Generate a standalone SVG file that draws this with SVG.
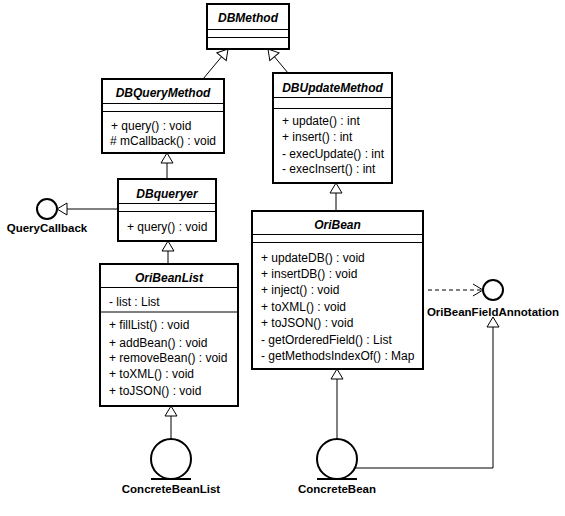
<svg xmlns="http://www.w3.org/2000/svg" width="565" height="516" viewBox="0 0 565 516">
<style>
.bg{fill:#fff}
.box{fill:#fff;stroke:#000;stroke-width:2}
.sep{stroke:#000;stroke-width:1}
text{font-family:"Liberation Sans",Arial,sans-serif;font-size:12px;fill:#000}
.title{font-weight:bold;font-style:italic;font-size:12px;text-anchor:middle}
.lbl{font-weight:bold;font-size:11.5px;text-anchor:middle}
.ln{stroke:#000;stroke-width:1;fill:none}
.dash{stroke:#000;stroke-width:1;fill:none;stroke-dasharray:4 3}
.iface{fill:#fff;stroke:#000;stroke-width:2}
.base{stroke:#000;stroke-width:2}
</style>
<defs>
<marker id="gen" viewBox="0 0 12 14" refX="11" refY="7" markerWidth="12" markerHeight="14" markerUnits="userSpaceOnUse" orient="auto">
<path d="M1,1 L11,7 L1,13 Z" fill="#fff" stroke="#000" stroke-width="1"/>
</marker>
<marker id="dep" viewBox="0 0 12 14" refX="11" refY="7" markerWidth="12" markerHeight="14" markerUnits="userSpaceOnUse" orient="auto">
<path d="M1,1 L11,7 L1,13" fill="none" stroke="#000" stroke-width="1"/>
</marker>
</defs>
<rect class="bg" x="0" y="0" width="565" height="516"/>

<g id="connectors">
<line class="ln" x1="203" y1="79" x2="228" y2="49" marker-end="url(#gen)"/>
<line class="ln" x1="288" y1="73" x2="268" y2="49" marker-end="url(#gen)"/>
<line class="ln" x1="167" y1="179" x2="167" y2="153" marker-end="url(#gen)"/>
<line class="ln" x1="168" y1="264" x2="168" y2="241" marker-end="url(#gen)"/>
<line class="ln" x1="118" y1="209" x2="57" y2="209" marker-end="url(#gen)"/>
<line class="ln" x1="336" y1="211" x2="336" y2="183" marker-end="url(#gen)"/>
<line class="ln" x1="171" y1="439" x2="171" y2="406" marker-end="url(#gen)"/>
<line class="ln" x1="337" y1="439" x2="337" y2="369" marker-end="url(#gen)"/>
<path class="ln" d="M355,468 H493 V317" marker-end="url(#gen)"/>
<line class="dash" x1="428" y1="290" x2="483" y2="290" marker-end="url(#dep)"/>
</g>

<g id="DBMethod">
<rect class="box" x="207" y="4" width="82" height="45"/>
<line class="sep" x1="207" y1="29.5" x2="289" y2="29.5"/>
<line class="sep" x1="207" y1="37.5" x2="289" y2="37.5"/>
<text class="title" x="248" y="22">DBMethod</text>
</g>

<g id="DBQueryMethod">
<rect class="box" x="102" y="79" width="122" height="74"/>
<line class="sep" x1="102" y1="103.5" x2="224" y2="103.5"/>
<line class="sep" x1="102" y1="111.5" x2="224" y2="111.5"/>
<text class="title" x="163" y="97">DBQueryMethod</text>
<text x="111" y="130">+ query() : void</text>
<text x="110" y="145"># mCallback() : void</text>
</g>

<g id="DBUpdateMethod">
<rect class="box" x="273" y="73" width="119" height="110"/>
<line class="sep" x1="273" y1="97.5" x2="392" y2="97.5"/>
<line class="sep" x1="273" y1="108.5" x2="392" y2="108.5"/>
<text class="title" x="332.5" y="92">DBUpdateMethod</text>
<text x="282" y="125">+ update() : int</text>
<text x="282" y="141">+ insert() : int</text>
<text x="282" y="158">- execUpdate() : int</text>
<text x="282" y="173">- execInsert() : int</text>
</g>

<g id="DBqueryer">
<rect class="box" x="118" y="179" width="98" height="62"/>
<line class="sep" x1="118" y1="203.5" x2="216" y2="203.5"/>
<line class="sep" x1="118" y1="211.5" x2="216" y2="211.5"/>
<text class="title" x="167" y="198">DBqueryer</text>
<text x="127" y="231">+ query() : void</text>
</g>

<g id="QueryCallback">
<circle class="iface" cx="47" cy="209" r="10"/>
<text class="lbl" x="47" y="232">QueryCallback</text>
</g>

<g id="OriBeanList">
<rect class="box" x="100" y="264" width="138" height="142"/>
<line class="sep" x1="100" y1="287.5" x2="238" y2="287.5"/>
<line class="sep" x1="100" y1="312" x2="238" y2="312"/>
<text class="title" x="169" y="282">OriBeanList</text>
<text x="109" y="305.5">- list : List</text>
<text x="109" y="329">+ fillList() : void</text>
<text x="109" y="346.5">+ addBean() : void</text>
<text x="109" y="362">+ removeBean() : void</text>
<text x="109" y="378">+ toXML() : void</text>
<text x="109" y="394.5">+ toJSON() : void</text>
</g>

<g id="OriBean">
<rect class="box" x="252" y="211" width="171" height="158"/>
<line class="sep" x1="252" y1="234.5" x2="423" y2="234.5"/>
<line class="sep" x1="252" y1="242.5" x2="423" y2="242.5"/>
<text class="title" x="337.5" y="229">OriBean</text>
<text x="261" y="262">+ updateDB() : void</text>
<text x="261" y="277.5">+ insertDB() : void</text>
<text x="261" y="294">+ inject() : void</text>
<text x="261" y="310.5">+ toXML() : void</text>
<text x="261" y="326.5">+ toJSON() : void</text>
<text x="261" y="343.5">- getOrderedField() : List</text>
<text x="261" y="359.5">- getMethodsIndexOf() : Map</text>
</g>

<g id="OriBeanFieldAnnotation">
<circle class="iface" cx="493" cy="290" r="10"/>
<text class="lbl" x="493" y="315.5">OriBeanFieldAnnotation</text>
</g>

<g id="ConcreteBeanList">
<circle class="iface" cx="171" cy="459" r="20"/>
<line class="base" x1="151" y1="479" x2="191" y2="479"/>
<text class="lbl" x="171" y="493">ConcreteBeanList</text>
</g>

<g id="ConcreteBean">
<circle class="iface" cx="337" cy="459" r="20"/>
<line class="base" x1="317" y1="479" x2="357" y2="479"/>
<text class="lbl" x="337" y="493">ConcreteBean</text>
</g>
</svg>
